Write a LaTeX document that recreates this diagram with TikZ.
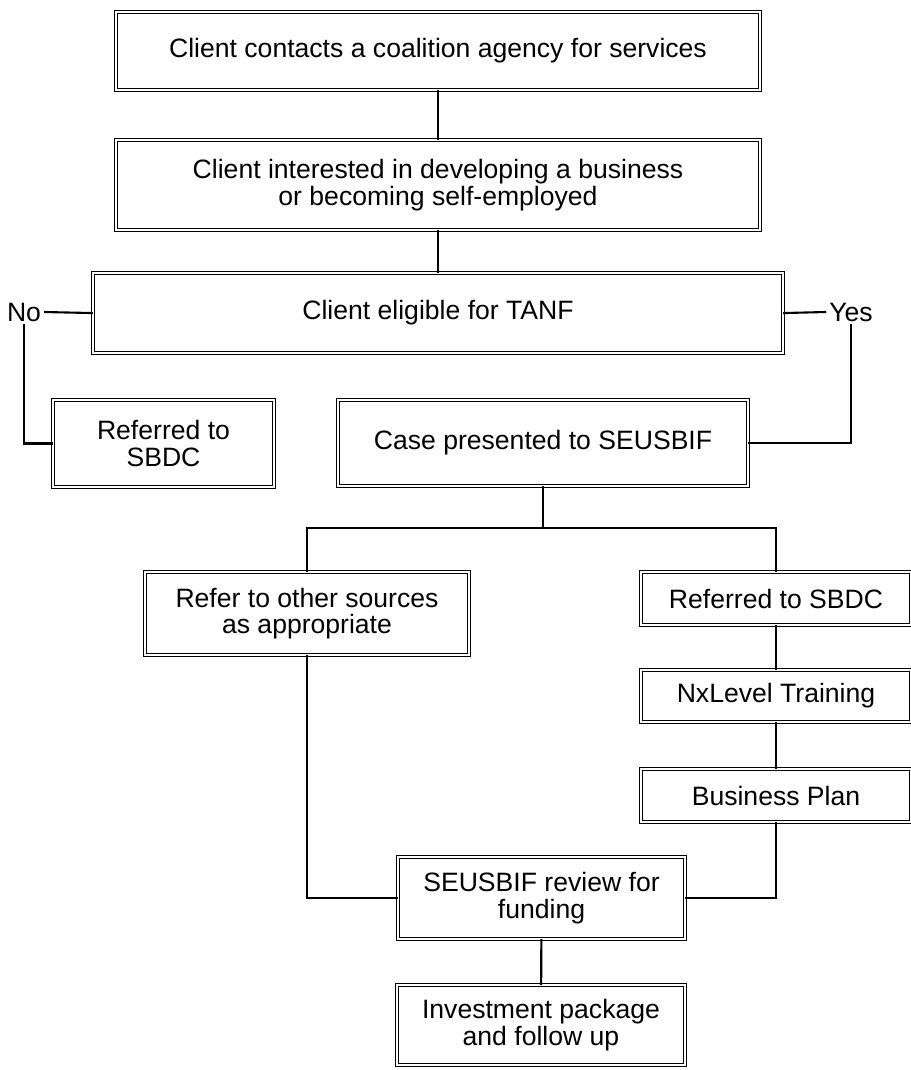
\documentclass[tikz,border=0pt]{standalone}
\usepackage{fontspec}
\setmainfont{Liberation Sans}
\usepackage{xcolor}
\usepackage{tikz}
\usetikzlibrary{positioning, calc}

\begin{document}
\begin{tikzpicture}[
   x=0.025cm, y=-0.025cm,
   box/.style = {draw, rectangle, double, double distance=1.5pt, line width=0.75pt, outer sep=0pt, align=center, font=\fontsize{18.9}{19}\selectfont},
   label/.style = {inner sep=2pt, font=\fontsize{18.9}{19}\selectfont},
   line/.style = {draw, line width=1.5pt}
   ]
  \useasboundingbox (0,0) rectangle (911,1070);

  % Intake boxes
  \node[box, minimum width=16.1cm, minimum height=1.95cm] (contact) at (438,51)
   {Client contacts a coalition agency for services};
  \node[box, below=1.25cm of contact, minimum width=16.1cm, minimum height=2.25cm] (interest)
   {Client interested in developing a business\\ or becoming self-employed};
  \node[box, below=1.075cm of interest, minimum width=17.25cm, minimum height=2cm] (tanf)
   {Client eligible for TANF};

  % Eligibility answers
  \node[label] (no) at (24,312) {No};
  \node[label] (yes) at (851,312) {Yes};
  \node[box, minimum width=5.525cm, minimum height=2.175cm] (sbdcleft) at (163.5,443.5)
   {Referred to\\ SBDC};
  \node[box, minimum width=10.25cm, minimum height=2.15cm] (case) at (543,443)
   {Case presented to SEUSBIF};

  % Branches
  \coordinate (fork) at (543,528);
  \node[box, minimum width=8.1cm, minimum height=2.075cm] (other) at (307,613.5)
   {Refer to other sources\\ as appropriate};
  \node[box, minimum width=6.75cm, minimum height=1.325cm] (sbdcright) at (776,598.5)
   {Referred to SBDC};
  \node[box, below=1.125cm of sbdcright, minimum width=6.75cm, minimum height=1.3cm] (nxlevel)
   {NxLevel Training};
  \node[box, below=1.175cm of nxlevel, minimum width=6.75cm, minimum height=1.325cm] (plan)
   {Business Plan};

  % Funding boxes
  \node[box, minimum width=7.175cm, minimum height=2.05cm] (review) at (541.5,898)
   {SEUSBIF review for\\ funding};
  \node[box, minimum width=7.2cm, minimum height=2.0cm] (invest) at (541,1025)
   {Investment package\\ and follow up};

  % Lines
  \draw[line] (contact) -- (interest);
  \draw[line] (interest) -- (tanf);
  \draw[line] (tanf.west) -- (no.east);
  \draw[line] (tanf.east) -- (yes.west);
  \draw[line] (no.south) |- (sbdcleft.west);
  \draw[line] (yes.south) |- (case.east);
  \draw[line] (case.south) -- (fork);
  \draw[line] (other.north) |- (fork) -| (sbdcright.north);
  \draw[line] (sbdcright) -- (nxlevel);
  \draw[line] (nxlevel) -- (plan);
  \draw[line] (other.south) |- (review.west);
  \draw[line] (plan.south) |- (review.east);
  \draw[line] (review) -- (invest);
\end{tikzpicture}
\end{document}
